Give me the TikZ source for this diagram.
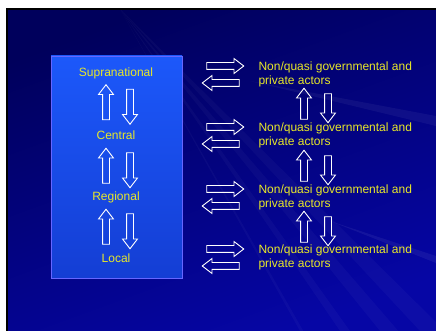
\documentclass[tikz,border=0pt]{standalone}
\usepackage{fontspec}
\setmainfont{Liberation Sans}
\usepackage{xcolor}
\usetikzlibrary{positioning,shapes.arrows}
\definecolor{bgtop}{RGB}{0,0,92}
\definecolor{bgbot}{RGB}{6,6,165}
\definecolor{boxtop}{RGB}{28,88,250}
\definecolor{boxbot}{RGB}{20,62,212}
\definecolor{label}{RGB}{232,232,40}
\tikzset{basic/.style={single arrow,draw=white,line width=0.9pt,inner sep=3pt,single arrow head extend=4pt,single arrow tip angle=75}}
\tikzset{uparrow/.style={basic,shape border rotate=90,minimum height=35pt}}
\tikzset{downarrow/.style={basic,shape border rotate=270,minimum height=35pt}}
\tikzset{rightarrow/.style={basic,minimum height=37pt}}
\tikzset{leftarrow/.style={basic,shape border rotate=180,minimum height=37pt}}
\tikzset{level/.style={text=label,font=\fontsize{12}{14}\selectfont}}
\tikzset{actors/.style={level,anchor=west,align=left}}

\begin{document}
\begin{tikzpicture}[x=1pt,y=1pt]
		\useasboundingbox (0,0) rectangle (436,331);
		\shade[top color=bgtop,bottom color=bgbot,shading angle=20] (7,0) rectangle (436,322);
		% faint streaks
		\foreach \a/\b in {300/20,340/60,380/110,420/150}
			\fill[white,opacity=0.03] (120,322) -- (\a,0) -- (\a+\b/6,0) -- cycle;
		\fill[white,opacity=0.05] (250,250) -- (436,215) -- (436,205) -- cycle;
		\fill[white,opacity=0.06] (330,110) -- (436,75) -- (436,68) -- cycle;
		\draw[black,line width=2pt] (7,0) -- (7,322) -- (436,322);
		% levels of government
		\shade[top color=boxtop,bottom color=boxbot,draw=blue!60!white,line width=0.5pt] (51,53) rectangle (182,275);
		\node[level] (supra) at (116,258) {Supranational};
		\node[level] (central) at (116,196) {Central};
		\node[level] (regional) at (116,134) {Regional};
		\node[level] (local) at (116,73) {Local};
		\foreach \y/\n in {226.5/1,163/2,102/3} {
			\node[uparrow] (lu\n) at (106,\y) {};
			\node[downarrow] (ld\n) at (130,\y) {};
		}
		% non governmental actors
		\foreach \y/\n in {257/1,196/2,134/3,74/4} {
			\node[actors] (act\n) at (255,\y) {Non/quasi governmental and\\private actors};
			\node[rightarrow] (ar\n) at (223,\y+8) {};
			\node[leftarrow] (al\n) at (223,\y-9) {};
		}
		\foreach \y/\n in {225/1,163/2,102/3} {
			\node[uparrow,minimum height=31pt] (ru\n) at (304,\y) {};
			\node[downarrow,minimum height=29pt] (rd\n) at (328,\y) {};
		}
	\end{tikzpicture}
\end{document}
